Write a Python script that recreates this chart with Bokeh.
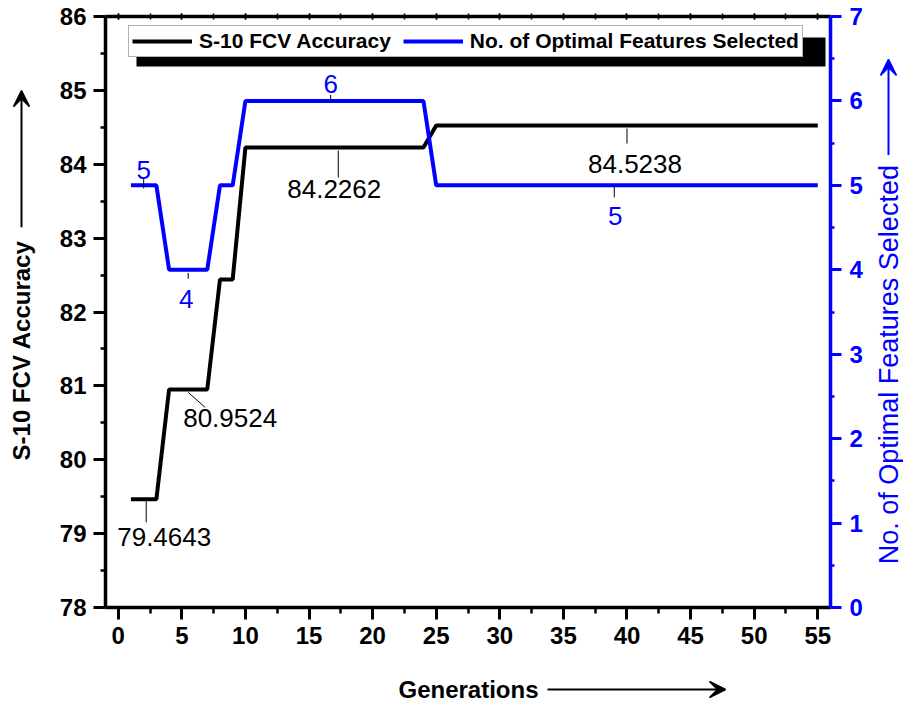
import math
from bokeh.plotting import figure
from bokeh.layouts import row, column
from bokeh.models import (Range1d, LinearAxis, SingleIntervalTicker, Legend, LegendItem,
                          Label, Arrow, VeeHead, BoxAnnotation)
from bokeh.embed import file_html
from bokeh.resources import INLINE

# ---------------- data ----------------
generations = list(range(1, 56))
accuracy = [79.4643, 79.4643, 79.4643,
            80.9524, 80.9524, 80.9524, 80.9524,
            82.4405, 82.4405,
            84.2262, 84.2262, 84.2262, 84.2262, 84.2262, 84.2262, 84.2262, 84.2262,
            84.2262, 84.2262, 84.2262, 84.2262, 84.2262, 84.2262, 84.2262,
            84.5238, 84.5238, 84.5238, 84.5238, 84.5238, 84.5238, 84.5238, 84.5238,
            84.5238, 84.5238, 84.5238, 84.5238, 84.5238, 84.5238, 84.5238, 84.5238,
            84.5238, 84.5238, 84.5238, 84.5238, 84.5238, 84.5238, 84.5238, 84.5238,
            84.5238, 84.5238, 84.5238, 84.5238, 84.5238, 84.5238, 84.5238]
features = [5, 5, 5,
            4, 4, 4, 4,
            5, 5,
            6, 6, 6, 6, 6, 6, 6, 6, 6, 6, 6, 6, 6, 6, 6,
            5, 5, 5, 5, 5, 5, 5, 5, 5, 5, 5, 5, 5, 5, 5, 5,
            5, 5, 5, 5, 5, 5, 5, 5, 5, 5, 5, 5, 5, 5, 5]

acc_note_values = [79.4643, 80.9524, 84.2262, 84.5238]
acc_note_texts = ["79.4643", "80.9524", "84.2262", "84.5238"]
feat_note_values = [5, 4, 6, 5]
feat_note_texts = ["5", "4", "6", "5"]

x_ticks = list(range(0, 60, 5))
series_names = ["S-10 FCV Accuracy", "No. of Optimal Features Selected"]
x_title = "Generations"
y_title = "S-10 FCV Accuracy"
y2_title = "No. of Optimal Features Selected"

# ---------------- layout (absolute page pixels) ----------------
W, H = 903, 704
LEFT_W = 45          # strip holding the left title
RIGHT_X = 872        # strip holding the right title starts here
BOTTOM_Y = 662       # strip holding the bottom title starts here
FL, FR, FT, FB = 105, 830, 16, 607   # plot frame
XMIN, XMAX = -1, 56
YMIN, YMAX = 78, 86
Y2MIN, Y2MAX = 0, 7
BLUE = "#0000ff"
FONT = "Liberation Sans"


def px_x(px):
    return XMIN + (px - FL) / (FR - FL) * (XMAX - XMIN)


def px_y(py):
    return YMAX - (py - FT) / (FB - FT) * (YMAX - YMIN)


def dy_left(px):
    return px / (FB - FT) * (YMAX - YMIN)


def dy_right(px):
    return px / (FB - FT) * (Y2MAX - Y2MIN)


def dx(px):
    return px / (FR - FL) * (XMAX - XMIN)


p = figure(width=RIGHT_X - LEFT_W, height=BOTTOM_Y, output_backend="svg", toolbar_location=None,
           x_range=Range1d(XMIN, XMAX), y_range=Range1d(YMIN, YMAX),
           min_border_left=FL - LEFT_W, min_border_right=RIGHT_X - FR, min_border_top=FT,
           min_border_bottom=BOTTOM_Y - FB, x_axis_location=None, y_axis_location=None)
p.extra_y_ranges = {"feat": Range1d(Y2MIN, Y2MAX)}
p.outline_line_color = None
p.xgrid.visible = False
p.ygrid.visible = False
p.background_fill_color = "white"
p.border_fill_color = "white"


def style_axis(ax, color, tick_out, minor_out, tick_in=0, minor_in=0):
    ax.axis_line_color = color
    ax.axis_line_width = 3.5
    ax.major_tick_line_color = color
    ax.minor_tick_line_color = color
    ax.major_tick_line_width = 3
    ax.minor_tick_line_width = 2.5
    ax.major_tick_out = tick_out
    ax.major_tick_in = tick_in
    ax.minor_tick_out = minor_out
    ax.minor_tick_in = minor_in
    ax.major_label_text_font = FONT
    ax.major_label_text_font_style = "bold"
    ax.major_label_text_font_size = "24px"
    ax.major_label_text_color = color


xb = LinearAxis(ticker=SingleIntervalTicker(interval=5, num_minor_ticks=2))
style_axis(xb, "black", 12, 6)
xb.major_label_standoff = 7
p.add_layout(xb, "below")

xt = LinearAxis(ticker=SingleIntervalTicker(interval=5, num_minor_ticks=2))
style_axis(xt, "black", 3, 3, 3, 3)
xt.major_tick_line_width = 1.5
xt.minor_tick_line_width = 1.5
xt.major_label_overrides = {t: "" for t in x_ticks}
xt.major_label_standoff = 0
p.add_layout(xt, "above")

yl = LinearAxis(ticker=SingleIntervalTicker(interval=1, num_minor_ticks=2))
style_axis(yl, "black", 12, 5)
yl.major_label_standoff = 7
p.add_layout(yl, "left")

yr = LinearAxis(y_range_name="feat", ticker=SingleIntervalTicker(interval=1, num_minor_ticks=2))
style_axis(yr, BLUE, 11, 4)
yr.major_label_standoff = 8
p.add_layout(yr, "right")

# ---------------- series ----------------
r_acc = p.line(generations, accuracy, line_color="black", line_width=4)
r_feat = p.line(generations, features, line_color=BLUE, line_width=4, y_range_name="feat")

# ---------------- value annotations ----------------
acc_anchor_gen = [2.2, 5.5, 17.3, 40.0]
acc_leader = [((0, 2), (0, 23)), ((0, 3), (17, 18)), ((0, 3), (0, 30)), ((0, 3), (0, 18))]
acc_text_off = [(18, 38), (42, 29), (-4, 41), (8, 38)]
for g, v, t, ld, to in zip(acc_anchor_gen, acc_note_values, acc_note_texts, acc_leader, acc_text_off):
    (a0, b0), (a1, b1) = ld
    p.segment(x0=[g + dx(a0)], y0=[v - dy_left(b0)], x1=[g + dx(a1)], y1=[v - dy_left(b1)],
              line_color="black", line_width=1)
    p.add_layout(Label(x=g, y=v, x_offset=to[0], y_offset=-to[1], text=t,
                       text_align="center", text_baseline="middle", text_font=FONT,
                       text_font_size="26px", text_color="black"))

feat_anchor_gen = [2.0, 5.5, 16.7, 39.0]
feat_leader = [((0, -8), (0, 3)), ((0, 3), (0, 9)), ((0, -6), (0, 0)), ((0, 1), (0, 12))]
feat_text_off = [(0, -15), (-2, 29), (0, -17), (1, 31)]
for g, v, t, ld, to in zip(feat_anchor_gen, feat_note_values, feat_note_texts, feat_leader, feat_text_off):
    (a0, b0), (a1, b1) = ld
    p.segment(x0=[g + dx(a0)], y0=[v - dy_right(b0)], x1=[g + dx(a1)], y1=[v - dy_right(b1)],
              line_color="black", line_width=1, y_range_name="feat")
    p.add_layout(Label(x=g, y=v, x_offset=to[0], y_offset=-to[1], text=t, y_range_name="feat",
                       text_align="center", text_baseline="middle", text_font=FONT,
                       text_font_size="26px", text_color=BLUE))

# ---------------- legend with shadow ----------------
shadow = BoxAnnotation(left=px_x(136), right=px_x(825), top=px_y(37), bottom=px_y(66),
                       fill_color="black", fill_alpha=1.0, line_color=None)
p.add_layout(shadow)
legend = Legend(items=[LegendItem(label=series_names[0], renderers=[r_acc]),
                       LegendItem(label=series_names[1], renderers=[r_feat])],
                orientation="horizontal", location=(128 - FL, FB - 57),
                padding=3, spacing=12, margin=0, glyph_width=60, glyph_height=20,
                label_standoff=7, label_height=20,
                label_text_font=FONT, label_text_font_style="bold",
                label_text_font_size="21px", label_text_color="black",
                border_line_color="#666666", border_line_width=1,
                background_fill_color="white", background_fill_alpha=1.0)
p.add_layout(legend, "center")


# ---------------- title strips (pixel coordinates, y downward) ----------------
def strip(w, h):
    f = figure(width=w, height=h, output_backend="svg", toolbar_location=None,
               x_range=Range1d(0, w), y_range=Range1d(h, 0), min_border=0,
               x_axis_location=None, y_axis_location=None)
    f.outline_line_color = None
    f.grid.visible = False
    f.background_fill_color = "white"
    f.border_fill_color = "white"
    return f


def head(color):
    return VeeHead(size=16, fill_color=color, fill_alpha=1.0, line_color=color, line_width=1.5)


sl = strip(LEFT_W, BOTTOM_Y)
sl.add_layout(Label(x=21, y=374, text=y_title, angle=math.pi / 2, text_align="center",
                    text_baseline="middle", text_font=FONT, text_font_style="bold",
                    text_font_size="24px", text_color="black"))
sl.add_layout(Arrow(x_start=21, y_start=236, x_end=21, y_end=83,
                    line_color="black", line_width=2, end=head("black")))

sr = strip(W - RIGHT_X, BOTTOM_Y)
sr.add_layout(Label(x=888 - RIGHT_X, y=390, text=y2_title, angle=math.pi / 2, text_align="center",
                    text_baseline="middle", text_font=FONT,
                    text_font_size="27px", text_color=BLUE))
sr.add_layout(Arrow(x_start=888 - RIGHT_X, y_start=155, x_end=888 - RIGHT_X, y_end=48,
                    line_color=BLUE, line_width=2, end=head(BLUE)))

sb = strip(W, H - BOTTOM_Y)
sb.add_layout(Label(x=468, y=689 - BOTTOM_Y, text=x_title, text_align="center",
                    text_baseline="middle", text_font=FONT, text_font_style="bold",
                    text_font_size="24px", text_color="black"))
sb.add_layout(Arrow(x_start=547, y_start=689 - BOTTOM_Y, x_end=725, y_end=689 - BOTTOM_Y,
                    line_color="black", line_width=2, end=head("black")))

page = column(row(sl, p, sr, spacing=0), sb, spacing=0)
open("out.html", "w").write(file_html(page, INLINE))
